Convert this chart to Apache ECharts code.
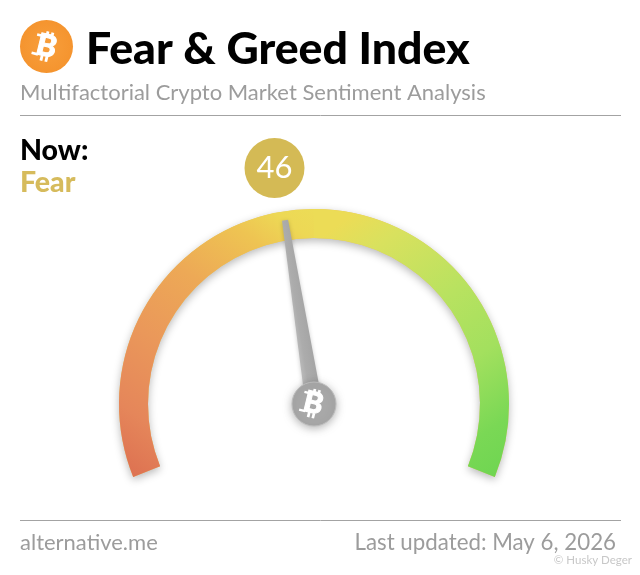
<!DOCTYPE html>
<html><head><meta charset="utf-8">
<style>html,body{margin:0;padding:0;background:#fff}#c{width:640px;height:575px}</style>
<script src="https://cdn.jsdelivr.net/npm/echarts@6/dist/echarts.min.js"></script></head>
<body><div id="c"></div>
<script>
const indexValue = 46;
const scaleMin = 0;
const scaleMax = 100;
const titleText = 'Fear & Greed Index';
const subtitleText = 'Multifactorial Crypto Market Sentiment Analysis';
const nowLabel = 'Now:';
const classification = 'Fear';
const siteText = 'alternative.me';
const updatedText = 'Last updated: May 6, 2026';
const watermarkText = '© Husky Deger';
const leftStops = [[0,'#dc6e50'],[0.18,'#e5865a'],[0.4,'#ea985a'],[0.62,'#eda956'],[0.82,'#eec452'],[0.92,'#edd855'],[1,'#ecdc56']];
const rightStops = [[0,'#ecdc56'],[0.08,'#ecdc56'],[0.2,'#d9e15e'],[0.45,'#b8e260'],[0.65,'#a3e05e'],[0.85,'#7ad855'],[1,'#6dd551']];

const grad=(x1,y1,x2,y2,stops)=>new echarts.graphic.LinearGradient(x1,y1,x2,y2,stops.map(s=>({offset:s[0],color:s[1]})));
const font='Lato, "Open Sans", sans-serif';
const chart=echarts.init(document.getElementById('c'),null,{renderer:'canvas'});
const cx=314, cy=404;

function bitcoinMark(x,y,size,fill,zlevel){
  const k=size/28, z=40;
  const bar=(bx,by,w,h)=>({type:'rect',zlevel,z,shape:{x:bx*k,y:by*k,width:w*k,height:h*k},style:{fill}});
  return {type:'group',x,y,rotation:-0.24,zlevel,z,children:[
    {type:'text',zlevel,z,x:0,y:0,style:{text:'B',font:'900 '+(size*1.08)+'px '+font,fill,align:'center',verticalAlign:'middle',stroke:fill,lineWidth:1}},
    bar(-3.5,-15,2.8,5.5),bar(1.5,-15,2.8,5.5),bar(-3.5,9.5,2.8,5.5),bar(1.5,9.5,2.8,5.5),
    bar(-12,-10.8,5.5,2.6),bar(-13,8.4,6.5,2.6)
  ]};
}

chart.setOption({
  animation:false,
  backgroundColor:'#fff',
  graphic:{elements:[
    {type:'circle',shape:{cx:46.5,cy:46.5,r:26.5},z:5,style:{fill:new echarts.graphic.RadialGradient(0.5,0.5,0.6,[{offset:0,color:'#f89f3c'},{offset:1,color:'#f4922c'}])}},
    bitcoinMark(46.5,46.5,28,'#fff',0),
    {type:'text',x:86,y:50,z:6,style:{text:titleText,font:'900 44.6px '+font,fill:'#000',verticalAlign:'middle'}},
    {type:'text',x:20,y:93,z:6,style:{text:subtitleText,font:'400 22px '+font,fill:'#9c9c9c',verticalAlign:'middle'}},
    {type:'line',shape:{x1:20,y1:115.5,x2:621,y2:115.5},z:5,style:{stroke:'#a3a3a3',lineWidth:1}},
    {type:'text',x:20,y:151,z:6,style:{text:nowLabel,font:'900 28.5px '+font,fill:'#000',verticalAlign:'middle'}},
    {type:'text',x:20,y:183,z:6,style:{text:classification,font:'900 28.5px '+font,fill:'#d6bb5c',verticalAlign:'middle'}},
    {type:'line',shape:{x1:20,y1:520.5,x2:621,y2:520.5},z:5,style:{stroke:'#a3a3a3',lineWidth:1}},
    {type:'text',x:20,y:543,z:6,style:{text:siteText,font:'400 22px '+font,fill:'#9c9c9c',verticalAlign:'middle'}},
    {type:'text',x:616,y:543,z:6,style:{text:updatedText,font:'400 22.3px '+font,fill:'#9c9c9c',align:'right',verticalAlign:'middle'}},
    {type:'text',x:632,y:560,z:6,style:{text:watermarkText,font:'400 11.5px '+font,fill:'#c8c8c8',align:'right',verticalAlign:'middle'}},
    bitcoinMark(313.5,403.5,27,'#fff',1)
  ]},
  series:[{
    type:'gauge',z:1,
    center:[cx,cy],radius:195,startAngle:202,endAngle:-22,min:scaleMin,max:scaleMax,
    axisLine:{lineStyle:{width:29,color:[[1,'#e8c860']],shadowBlur:9,shadowColor:'rgba(0,0,0,0.28)',shadowOffsetY:3}},
    splitLine:{show:false},axisTick:{show:false},axisLabel:{show:false},progress:{show:false},title:{show:false},
    pointer:{show:false},anchor:{show:false},detail:{show:false},data:[]
  },{
    type:'gauge',z:2,
    center:[cx,cy],radius:195,startAngle:202,endAngle:-22,min:scaleMin,max:scaleMax,
    axisLine:{lineStyle:{width:29,color:[[0.5,grad(0,1,1,0,leftStops)],[1,grad(0,0,1,1,rightStops)]]}},
    splitLine:{show:false},axisTick:{show:false},axisLabel:{show:false},progress:{show:false},title:{show:false},
    pointer:{show:true,icon:'path://M32 0 L68 0 L100 100 L0 100 Z',width:17,length:186,offsetCenter:[0,0],
      itemStyle:{color:grad(0,0,1,0,[[0,'#bcbcbc'],[0.35,'#acacac'],[1,'#a4a4a4']]),shadowBlur:4,shadowColor:'rgba(0,0,0,0.2)',shadowOffsetY:1}},
    anchor:{show:true,showAbove:true,size:44,icon:'circle',itemStyle:{color:'#a8a8a8',borderColor:'#bcbcbc',borderWidth:1,shadowBlur:8,shadowColor:'rgba(0,0,0,0.28)',shadowOffsetY:2}},
    detail:{show:true,valueAnimation:false,offsetCenter:[-39.5,-236],width:60,height:60,lineHeight:60,padding:0,borderRadius:30,backgroundColor:'#d4ba55',color:'#fff',fontFamily:font,fontWeight:400,fontSize:31,formatter:'{value}'},
    data:[{value:indexValue}]
  }]
});
</script></body></html>
